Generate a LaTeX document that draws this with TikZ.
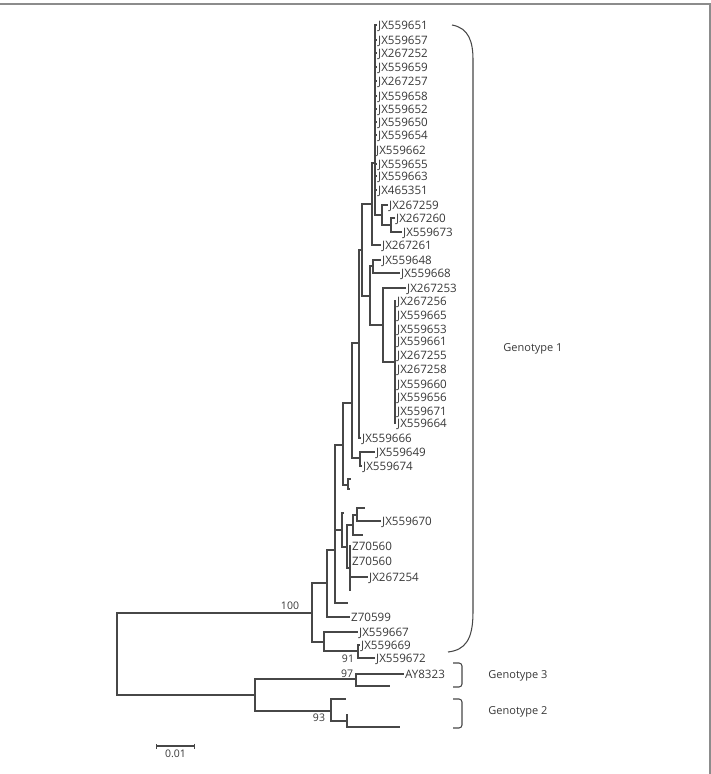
\documentclass[tikz,border=0pt]{standalone}
\usepackage{fontspec}
\setmainfont{Open Sans}
\usetikzlibrary{arrows.meta,positioning}
\colorlet{phyline}{black!72}
\colorlet{phytext}{black!78}
\colorlet{phyframe}{black!45}
\tikzset{
  phybranch/.style={line width=1.05pt,phyline},
  phytip/.style={anchor=west,inner sep=1pt,text height=8.3pt,text depth=0pt,
                 font=\fontsize{11.6}{12}\selectfont,text=phytext},
  phyboot/.style={inner sep=0pt,font=\fontsize{10.5}{11}\selectfont,text=phytext},
  phybrace/.style={line width=1.05pt,phyline},
  phygeno/.style={inner sep=0pt,font=\fontsize{11}{12}\selectfont,text=phytext},
  phybar/.style={line width=1.05pt,phyline,{Bar[width=5pt]}-{Bar[width=5pt]}},
  phyrule/.style={line width=1.3pt,phyframe}
}

\begin{document}
\begin{tikzpicture}[x=1pt,y=-1pt]
  \useasboundingbox (0,0) rectangle (711,774);
  \draw[phyrule] (0,4) -- (710,4) -- (710,774);

  % internal nodes
  \coordinate (root) at (117,654);
  \coordinate (n1) at (312,613);
  \coordinate (n2) at (327,583);
  \coordinate (n3) at (335,550);
  \coordinate (nS) at (343,445);
  \coordinate (nP) at (352,403);
  \coordinate (nQ) at (359,343);
  \coordinate (nK) at (362,250);
  \coordinate (nD) at (372,204);
  \coordinate (nA) at (375,163);
  \coordinate (nB) at (382,215);
  \coordinate (nC) at (391,225);
  \coordinate (nJ) at (370,296);
  \coordinate (nG) at (373,266);
  \coordinate (nH) at (383,325);
  \coordinate (nI) at (395,362);
  \coordinate (nR) at (360,458);
  \coordinate (nT) at (348,485);
  \coordinate (nAA) at (342,530);
  \coordinate (nZ) at (347,547);
  \coordinate (nX) at (353,525);
  \coordinate (nW) at (357,515);
  \coordinate (nY) at (350,568);
  \coordinate (nj) at (324,642);
  \coordinate (nk) at (358,651);
  \coordinate (n23) at (255,695);
  \coordinate (n97) at (356,679);
  \coordinate (n93) at (331,711);
  \coordinate (n93b) at (347,721);

  % unlabelled tips
  \coordinate (e0) at (344,513);
  \coordinate (e1) at (365,508);
  \coordinate (e2) at (363,535);
  \coordinate (e3) at (351,590);
  \coordinate (e4) at (348,603);
  \coordinate (e5) at (351,479);
  \coordinate (e6) at (350,489);
  \coordinate (e7) at (390,686);
  \coordinate (e8) at (346,699);
  \coordinate (e9) at (348,715);
  \coordinate (e10) at (400,727);

  % labelled tips
  \node[phytip] (t01) at (377,25) {JX559651};
  \node[phytip] (t02) at (377,40) {JX559657};
  \node[phytip] (t03) at (377,53) {JX267252};
  \node[phytip] (t04) at (377,67) {JX559659};
  \node[phytip] (t05) at (377,81) {JX267257};
  \node[phytip] (t06) at (377,96) {JX559658};
  \node[phytip] (t07) at (377,109) {JX559652};
  \node[phytip] (t08) at (377,122) {JX559650};
  \node[phytip] (t09) at (377,135) {JX559654};
  \node[phytip] (t10) at (375,150) {JX559662};
  \node[phytip] (t11) at (377,164) {JX559655};
  \node[phytip] (t12) at (377,176) {JX559663};
  \node[phytip] (t13) at (377,190) {JX465351};
  \node[phytip] (t14) at (388,205) {JX267259};
  \node[phytip] (t15) at (395,218) {JX267260};
  \node[phytip] (t16) at (402,232) {JX559673};
  \node[phytip] (t17) at (381,245) {JX267261};
  \node[phytip] (t18) at (381,260) {JX559648};
  \node[phytip] (t19) at (400,273) {JX559668};
  \node[phytip] (t20) at (406,288) {JX267253};
  \node[phytip] (t21) at (396,301) {JX267256};
  \node[phytip] (t22) at (396,315) {JX559665};
  \node[phytip] (t23) at (396,329) {JX559653};
  \node[phytip] (t24) at (396,341) {JX559661};
  \node[phytip] (t25) at (396,355) {JX267255};
  \node[phytip] (t26) at (396,369) {JX267258};
  \node[phytip] (t27) at (396,384) {JX559660};
  \node[phytip] (t28) at (396,397) {JX559656};
  \node[phytip] (t29) at (396,411) {JX559671};
  \node[phytip] (t30) at (396,423) {JX559664};
  \node[phytip] (t31) at (361,438) {JX559666};
  \node[phytip] (t32) at (375,452) {JX559649};
  \node[phytip] (t33) at (362,466) {JX559674};
  \node[phytip] (t34) at (381,521) {JX559670};
  \node[phytip] (t35) at (351,546) {Z70560};
  \node[phytip] (t36) at (351,561) {Z70560};
  \node[phytip] (t37) at (368,577) {JX267254};
  \node[phytip] (t38) at (350,617) {Z70599};
  \node[phytip] (t39) at (358,632) {JX559667};
  \node[phytip] (t40) at (360,645) {JX559669};
  \node[phytip] (t41) at (375,658) {JX559672};
  \node[phytip] (t42) at (404,674) {AY8323};

  % branches
  \draw[phybranch] (root) |- (n1);
  \draw[phybranch] (root) |- (n23);
  \draw[phybranch] (n1) |- (n2);
  \draw[phybranch] (n1) |- (nj);
  \draw[phybranch] (n2) |- (n3);
  \draw[phybranch] (n2) |- (t38);
  \draw[phybranch] (n3) |- (nS);
  \draw[phybranch] (n3) |- (nAA);
  \draw[phybranch] (n3) |- (e4);
  \draw[phybranch] (nS) |- (nP);
  \draw[phybranch] (nS) |- (nT);
  \draw[phybranch] (nT) |- (e5);
  \draw[phybranch] (nT) |- (e6);
  \draw[phybranch] (nP) |- (nQ);
  \draw[phybranch] (nP) |- (nR);
  \draw[phybranch] (nR) |- (t32);
  \draw[phybranch] (nR) |- (t33);
  \draw[phybranch] (nQ) |- (nK);
  \draw[phybranch] (nQ) |- (t31);
  \draw[phybranch] (nK) |- (nD);
  \draw[phybranch] (nK) |- (nJ);
  \draw[phybranch] (nD) |- (nA);
  \draw[phybranch] (nD) |- (t17);
  \draw[phybranch] (nA) |- (t01);
  \draw[phybranch] (nA) |- (t02);
  \draw[phybranch] (nA) |- (t03);
  \draw[phybranch] (nA) |- (t04);
  \draw[phybranch] (nA) |- (t05);
  \draw[phybranch] (nA) |- (t06);
  \draw[phybranch] (nA) |- (t07);
  \draw[phybranch] (nA) |- (t08);
  \draw[phybranch] (nA) |- (t09);
  \draw[phybranch] (nA) |- (t10);
  \draw[phybranch] (nA) |- (t11);
  \draw[phybranch] (nA) |- (t12);
  \draw[phybranch] (nA) |- (t13);
  \draw[phybranch] (nA) |- (nB);
  \draw[phybranch] (nB) |- (t14);
  \draw[phybranch] (nB) |- (nC);
  \draw[phybranch] (nC) |- (t15);
  \draw[phybranch] (nC) |- (t16);
  \draw[phybranch] (nJ) |- (nG);
  \draw[phybranch] (nJ) |- (nH);
  \draw[phybranch] (nG) |- (t18);
  \draw[phybranch] (nG) |- (t19);
  \draw[phybranch] (nH) |- (t20);
  \draw[phybranch] (nH) |- (nI);
  \draw[phybranch] (nI) |- (t21);
  \draw[phybranch] (nI) |- (t22);
  \draw[phybranch] (nI) |- (t23);
  \draw[phybranch] (nI) |- (t24);
  \draw[phybranch] (nI) |- (t25);
  \draw[phybranch] (nI) |- (t26);
  \draw[phybranch] (nI) |- (t27);
  \draw[phybranch] (nI) |- (t28);
  \draw[phybranch] (nI) |- (t29);
  \draw[phybranch] (nI) |- (t30);
  \draw[phybranch] (nAA) |- (e0);
  \draw[phybranch] (nAA) |- (nZ);
  \draw[phybranch] (nZ) |- (nX);
  \draw[phybranch] (nZ) |- (nY);
  \draw[phybranch] (nX) |- (nW);
  \draw[phybranch] (nX) |- (e2);
  \draw[phybranch] (nW) |- (e1);
  \draw[phybranch] (nW) |- (t34);
  \draw[phybranch] (nY) |- (t35);
  \draw[phybranch] (nY) |- (t36);
  \draw[phybranch] (nY) |- (t37);
  \draw[phybranch] (nY) |- (e3);
  \draw[phybranch] (nj) |- (t39);
  \draw[phybranch] (nj) |- (nk);
  \draw[phybranch] (nk) |- (t40);
  \draw[phybranch] (nk) |- (t41);
  \draw[phybranch] (n23) |- (n97);
  \draw[phybranch] (n23) |- (n93);
  \draw[phybranch] (n97) |- (t42);
  \draw[phybranch] (n97) |- (e7);
  \draw[phybranch] (n93) |- (e8);
  \draw[phybranch] (n93) |- (n93b);
  \draw[phybranch] (n93b) |- (e9);
  \draw[phybranch] (n93b) |- (e10);

  % bootstrap values
  \node[phyboot] (b100) at (290,606) {100};
  \node[phyboot] (b97) at (347,674) {97};
  \node[phyboot] (b91) at (348,659) {91};
  \node[phyboot] (b93) at (319,718) {93};

  % genotype brackets
  \draw[phybrace] (452,25) .. controls (469,28) and (473,42) .. (473,60)
    -- (473,612) .. controls (473,640) and (465,650) .. (448,652);
  \draw[phybrace,rounded corners=3pt] (453,663) -- (462,663) -- (462,687) -- (453,687);
  \draw[phybrace,rounded corners=3pt] (453,699) -- (462,699) -- (462,728) -- (453,728);
  \node[phygeno] (geno1) at (533,349) {Genotype 1};
  \node[phygeno] (geno3) at (518,676) {Genotype 3};
  \node[phygeno] (geno2) at (518,712) {Genotype 2};

  % scale
  \coordinate (bar0) at (156,746);
  \coordinate (bar1) at (195,746);
  \coordinate (barmid) at (175.5,746);
  \draw[phybar] (bar0) -- (bar1);
  \node[phyboot,below=4pt of barmid] (scale) {0.01};
\end{tikzpicture}
\end{document}
